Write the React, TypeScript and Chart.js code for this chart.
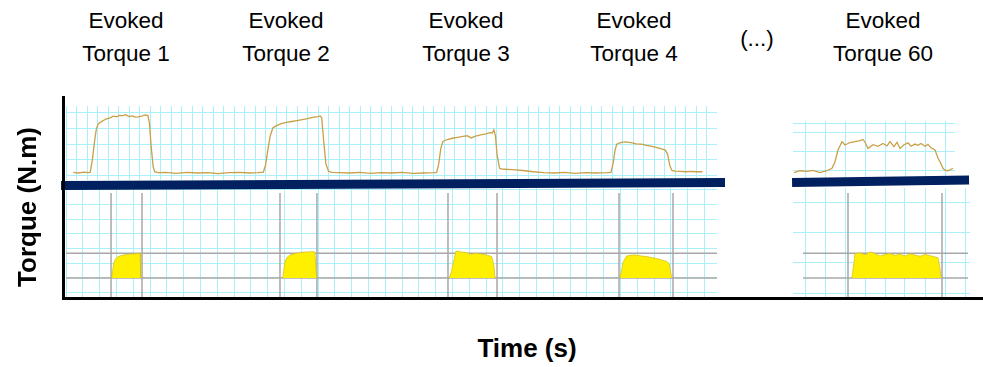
import React, { useEffect, useRef } from "react";
import { Chart, registerables } from "chart.js";

Chart.register(...registerables);

// Evoked torque recording, contractions 1-4 (time in s, torque in N.m)
const traceTime = [
  0.7, 1.2, 1.7, 2.1, 2.3, 2.5, 2.75, 2.9, 3.1, 3.5, 3.8, 4.2, 4.5, 4.8, 5.1, 5.4, 5.7, 6.0, 6.3, 6.6,
  6.9, 7.2, 7.5, 7.8, 7.95, 8.1, 8.3, 8.45, 8.8, 9.5, 10.5, 11.5, 12.5, 13.5, 14.5, 15.5, 16.5, 17.5, 18.3, 18.8,
  19.0, 19.25, 19.45, 19.7, 20.0, 20.5, 21.0, 21.5, 22.0, 22.5, 23.0, 23.5, 24.0, 24.2, 24.35,
  24.55, 24.75, 25.0, 25.3, 26, 27, 28, 29, 30, 31, 32, 33, 34, 35, 35.3,
  35.5, 35.7, 35.9, 36.3, 36.8, 37.3, 37.8, 38.2, 38.6, 39.0, 39.5, 40.0, 40.4, 40.6, 40.75,
  40.9, 41.05, 41.3, 41.7, 42.5, 43.5, 44.5, 45.5, 46.5, 47.5, 48.5, 49.5, 50.5, 51.5, 51.9,
  52.1, 52.3, 52.45, 52.8, 53.3, 53.8, 54.3, 54.8, 55.3, 55.8, 56.3, 56.8, 57.1, 57.3, 57.5,
  57.7, 58.0, 58.5, 59.0, 59.5, 60.0, 60.6,
];
const traceTorque = [
  0.2, 0.0, 0.3, 0.1, 0.2, 4.0, 11.0, 14.4, 16.0, 16.8, 17.4, 17.8, 18.3, 18.1, 18.6, 18.5, 18.8, 18.2, 18.4, 18.0,
  18.1, 18.3, 18.7, 18.5, 16.0, 9.0, 2.0, 0.4, 0.1, 0.2, -0.1, 0.2, 0.0, 0.1, -0.2, 0.1, 0.2, 0.0, 0.1, 0.3,
  2.5, 8.0, 12.0, 14.5, 15.2, 15.9, 16.3, 16.6, 16.9, 17.2, 17.5, 17.9, 18.2, 18.4, 17.8,
  10.0, 3.0, 0.6, 0.2, 0.1, 0.0, 0.2, -0.1, 0.1, 0.0, 0.2, -0.1, 0.0, 0.1, 0.2,
  3.0, 8.0, 10.2, 10.8, 11.2, 11.5, 11.8, 12.0, 11.3, 11.9, 12.3, 12.6, 13.0, 12.9, 13.9,
  12.0, 6.0, 1.5, 1.2, 1.1, 0.8, 0.4, 0.1, 0.0, 0.2, -0.1, 0.1, 0.0, 0.1, 0.2,
  3.0, 7.5, 9.3, 9.8, 10.0, 9.8, 9.4, 9.3, 8.9, 8.6, 8.2, 7.7, 7.3, 6.0, 2.5,
  0.8, 0.6, 0.5, 0.4, 0.5, 0.4, 0.4,
];

// Evoked torque recording, contraction 60
const trace60Time = [
  -1.1, -0.5, 0.2, 0.8, 1.5, 2.2, 2.7, 3.0, 3.3, 3.7, 4.0, 4.5, 5.0, 5.5, 5.8, 6.0, 6.3, 6.8, 7.3, 7.8,
  8.2, 8.5, 8.9, 9.2, 9.5, 9.9, 10.3, 10.6, 11.0, 11.3, 11.6, 12.0, 12.3, 12.6, 13.0, 13.3, 13.5, 13.8,
  14.0, 14.3, 14.8,
];
const trace60Torque = [
  -0.2, 0.4, 0.2, 0.5, -0.2, 0.4, 1.2, 3.3, 7.1, 9.8, 8.7, 9.5, 9.8, 10.1, 10.5, 9.6, 7.6, 8.8, 8.3, 9.2,
  8.4, 9.8, 8.2, 9.6, 7.6, 8.8, 9.4, 8.3, 9.0, 8.6, 9.2, 8.3, 8.9, 7.8, 7.1, 4.5, 3.3, 1.2,
  0.6, 0.4, 1.2,
];

// Analysis windows placed on each contraction (s)
const windowStart = [4.29, 20.38, 36.38, 52.67];
const windowEnd = [7.24, 23.9, 41.05, 57.81];
const window60Start = 4.3;
const window60End = 13.7;

// Torque retained inside each window (time in s, torque in N.m)
const segmentTime = [
  [4.35, 4.45, 4.55, 4.7, 4.9, 5.2, 5.6, 6.1, 6.6, 7.05, 7.1, 7.14],
  [20.64, 20.75, 20.86, 21.05, 21.33, 21.8, 22.3, 22.9, 23.55, 23.7, 23.87],
  [36.5, 36.7, 36.95, 37.14, 37.6, 38.16, 38.64, 38.86, 39.4, 40.07, 40.54, 40.75, 40.86],
  [52.76, 52.9, 53.08, 53.4, 53.9, 54.35, 54.8, 55.3, 55.9, 56.57, 57.2, 57.45, 57.69],
];
const segmentTorque = [
  [0, 2.5, 4.9, 6.0, 6.8, 7.2, 7.5, 7.7, 7.8, 8.0, 4.0, 0],
  [0, 2.8, 5.3, 6.6, 7.4, 7.9, 8.2, 8.4, 8.5, 8.3, 0],
  [0, 2.0, 5.8, 8.7, 8.4, 8.2, 7.5, 8.0, 7.8, 7.4, 6.9, 4.0, 0],
  [0, 2.2, 5.3, 7.1, 7.4, 7.4, 7.1, 6.9, 6.5, 6.0, 5.3, 4.6, 0],
];
const segment60Time = [
  4.7, 4.9, 5.0, 5.5, 6.0, 6.5, 7.0, 7.5, 8.0, 8.5, 9.0, 9.5, 10.0, 10.5, 11.0, 11.5, 12.0, 12.5, 13.0, 13.3, 13.5, 13.6,
];
const segment60Torque = [
  0, 5.0, 7.9, 8.1, 7.5, 8.4, 7.9, 7.1, 7.6, 7.9, 7.3, 7.7, 7.1, 7.8, 7.4, 7.0, 7.6, 7.2, 6.8, 6.5, 3.0, 0,
];

// Reference torque levels drawn across the lower panels (N.m)
const referenceLevels = [0, 8];

const titleLines = ["Evoked", "Evoked", "Evoked", "Evoked", "Evoked"];
const contractionLabels = ["Torque 1", "Torque 2", "Torque 3", "Torque 4", "Torque 60"];

const GRID = "#aaf0f8";
const TRACE = "#c9a048";
const MARKER = "#a8a8a8";
const FILL = "#fff000";
const NAVY = "#002060";
const FONT = "'Liberation Sans', Arial, sans-serif";

const range = (start: number, step: number, end: number) => {
  const out: number[] = [];
  for (let v = start; v <= end + 1e-9; v += step) out.push(+v.toFixed(4));
  return out;
};

const toPoints = (xs: number[], ys: number[]) => xs.map((x, i) => ({ x, y: ys[i] }));

function axis(min: number, max: number, gridValues: number[]) {
  return {
    type: "linear",
    min,
    max,
    border: { display: false },
    ticks: { display: false },
    grid: { color: GRID, lineWidth: 1, drawTicks: false },
    afterBuildTicks: (scale: any) => {
      scale.ticks = gridValues.map((value) => ({ value }));
    },
  };
}

function baseOptions(x: any, y: any) {
  return {
    responsive: false,
    animation: false,
    events: [],
    layout: { padding: 0 },
    plugins: { legend: { display: false }, tooltip: { enabled: false } },
    elements: { point: { radius: 0 }, line: { tension: 0 } },
    scales: { x, y },
  };
}

const traceDataset = (xs: number[], ys: number[]) => ({
  data: toPoints(xs, ys),
  borderColor: TRACE,
  borderWidth: 1.3,
  fill: false,
});

const segmentDataset = (xs: number[], ys: number[]) => ({
  data: toPoints(xs, ys),
  borderColor: "#d8c21c",
  borderWidth: 0.8,
  backgroundColor: FILL,
  fill: "origin",
});

const markerDataset = (points: { x: number; y: number }[]) => ({
  data: points,
  borderColor: MARKER,
  borderWidth: 1.5,
  fill: false,
});

// Lower panels share the same torque scale
const LOW_MIN = -6.13;
const LOW_MAX = 29.03;
const MARKER_TOP = 27.4;

function topLeftConfig() {
  return {
    type: "line",
    data: { datasets: [traceDataset(traceTime, traceTorque)] },
    options: baseOptions(axis(0, 62, range(0, 1, 62)), axis(-2.26, 21.6, range(-0.9, 5.1, 20))),
  };
}

function topRightConfig() {
  return {
    type: "line",
    data: { datasets: [traceDataset(trace60Time, trace60Torque)] },
    options: baseOptions(axis(-1.2, 15, range(0, 2, 14)), axis(-1.94, 16.45, [0.6, 6.6, 12.6, 15.8])),
  };
}

function bottomLeftConfig() {
  const datasets: any[] = segmentTime.map((xs, i) => segmentDataset(xs, segmentTorque[i]));
  windowStart.forEach((s, i) => {
    datasets.push(markerDataset([{ x: s, y: MARKER_TOP }, { x: s, y: LOW_MIN }]));
    datasets.push(markerDataset([{ x: windowEnd[i], y: MARKER_TOP }, { x: windowEnd[i], y: LOW_MIN }]));
  });
  referenceLevels.forEach((lvl) => datasets.push(markerDataset([{ x: 0, y: lvl }, { x: 62, y: lvl }])));
  return {
    type: "line",
    data: { datasets },
    options: baseOptions(axis(0, 62, range(0, 1.6, 62)), axis(LOW_MIN, LOW_MAX, range(-4.75, 4.75, 29))),
  };
}

function bottomRightConfig() {
  const datasets: any[] = [segmentDataset(segment60Time, segment60Torque)];
  [window60Start, window60End].forEach((s) =>
    datasets.push(markerDataset([{ x: s, y: MARKER_TOP }, { x: s, y: LOW_MIN }]))
  );
  referenceLevels.forEach((lvl) => datasets.push(markerDataset([{ x: -0.2, y: lvl }, { x: 16.3, y: lvl }])));
  return {
    type: "line",
    data: { datasets },
    options: baseOptions(axis(-1.2, 16.5, range(0, 2, 16)), axis(LOW_MIN, LOW_MAX, [-4.84, 4.84, 14.52, 24.2])),
  };
}

function Panel({ left, top, width, height, build }: any) {
  const ref = useRef<HTMLCanvasElement>(null);
  useEffect(() => {
    const chart = new Chart(ref.current as HTMLCanvasElement, build());
    return () => chart.destroy();
  }, []);
  return (
    <canvas
      ref={ref}
      width={width}
      height={height}
      style={{ position: "absolute", left, top, width, height }}
    />
  );
}

const titleCenters = [126, 286, 466, 634, 883];

export default function App() {
  return (
    <div
      style={{
        position: "absolute",
        left: 0,
        top: 0,
        width: 983,
        height: 367,
        background: "#fff",
        overflow: "hidden",
        fontFamily: FONT,
        color: "#000",
      }}
    >
      <Panel left={66} top={106} width={651} height={74} build={topLeftConfig} />
      <Panel left={793} top={121} width={162} height={57} build={topRightConfig} />
      <Panel left={66} top={188} width={651} height={109} build={bottomLeftConfig} />
      <Panel left={793} top={188} width={177} height={109} build={bottomRightConfig} />

      {/* separators between the recorded torque and the analysed segments */}
      <div
        style={{
          position: "absolute",
          left: 61,
          top: 180.5,
          width: 664,
          height: 9,
          background: NAVY,
          transform: "rotate(-0.26deg)",
          transformOrigin: "0 0",
        }}
      />
      <div
        style={{
          position: "absolute",
          left: 792,
          top: 177.5,
          width: 177,
          height: 8.7,
          background: NAVY,
          transform: "rotate(-0.84deg)",
          transformOrigin: "0 0",
        }}
      />

      {/* axes */}
      <div style={{ position: "absolute", left: 62, top: 96, width: 3, height: 204, background: "#000" }} />
      <div style={{ position: "absolute", left: 62, top: 296.5, width: 921, height: 3, background: "#000" }} />

      {contractionLabels.map((label, i) => (
        <div
          key={label}
          style={{
            position: "absolute",
            left: titleCenters[i] - 70,
            top: 5,
            width: 140,
            textAlign: "center",
            fontSize: "22.5px",
            lineHeight: "32.5px",
            whiteSpace: "nowrap",
          }}
        >
          {titleLines[i]}
          <br />
          {label}
        </div>
      ))}
      <div
        style={{
          position: "absolute",
          left: 727,
          top: 23,
          width: 60,
          textAlign: "center",
          fontSize: "22.5px",
          lineHeight: "32.5px",
        }}
      >
        (...)
      </div>

      <div
        style={{
          position: "absolute",
          left: -73.3,
          top: 191.5,
          width: 200,
          height: 30,
          lineHeight: "30px",
          textAlign: "center",
          fontSize: "26px",
          fontWeight: "bold",
          transform: "rotate(-90deg)",
          whiteSpace: "nowrap",
        }}
      >
        Torque (N.m)
      </div>
      <div
        style={{
          position: "absolute",
          left: 427,
          top: 333,
          width: 200,
          height: 30,
          lineHeight: "30px",
          textAlign: "center",
          fontSize: "26px",
          fontWeight: "bold",
          whiteSpace: "nowrap",
        }}
      >
        Time (s)
      </div>
    </div>
  );
}
